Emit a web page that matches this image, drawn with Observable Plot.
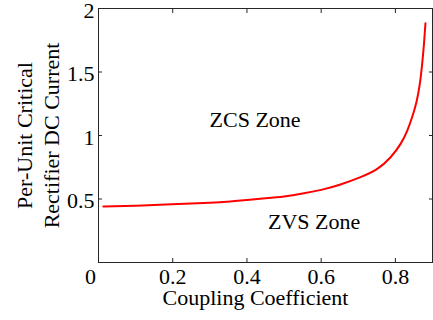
<!DOCTYPE html>
<html>
<head>
<meta charset="utf-8">
<script src="https://cdn.jsdelivr.net/npm/d3@7"></script>
<script src="https://cdn.jsdelivr.net/npm/@observablehq/plot@0.6"></script>
<style>
  html, body { margin: 0; padding: 0; background: #fff; }
  #chart svg { display: block; }
</style>
</head>
<body>
<div id="chart"></div>
<script>
const coupling = [0.013, 0.1, 0.18, 0.3, 0.36, 0.45, 0.5, 0.55, 0.6, 0.65, 0.706, 0.751, 0.787, 0.814, 0.832, 0.845, 0.857, 0.866, 0.872, 0.877, 0.881];
const current  = [0.441, 0.447, 0.456, 0.47, 0.482, 0.505, 0.52, 0.543, 0.572, 0.612, 0.672, 0.737, 0.829, 0.934, 1.039, 1.144, 1.266, 1.41, 1.56, 1.72, 1.884];
const xTicks = [0.2, 0.4, 0.6, 0.8];
const xTickZero = [0];
const xTicksAll = [0, 0.2, 0.4, 0.6, 0.8];
const yTicks = [0.5, 1, 1.5, 2];
const zoneLabels = ["ZCS Zone", "ZVS Zone"];
const zoneX = [0.422, 0.581];
const zoneY = [1.126, 0.323];
const xLabel = "Coupling Coefficient";
const yLabelLines = ["Per-Unit Critical", "Rectifier DC Current"];

const data = coupling.map((k, i) => ({k, y: current[i]}));
const zones = zoneLabels.map((t, i) => ({t, x: zoneX[i], y: zoneY[i]}));

const font = "Liberation Serif, Times New Roman, serif";
const fs = 22;
const axisColor = "#262626";

const chart = Plot.plot({
  width: 433,
  height: 320,
  marginLeft: 98,
  marginRight: 1,
  marginTop: 8,
  marginBottom: 58,
  style: `font-family: ${font}; font-size: ${fs}px; color: #000; background: #fff;`,
  x: {domain: [0, 0.9]},
  y: {domain: [0, 2]},
  marks: [
    Plot.frame({stroke: axisColor, strokeWidth: 1}),
    Plot.axisX(xTicksAll, {anchor: "bottom", tickSize: -4, tickFormat: () => "", stroke: axisColor, label: null}),
    Plot.axisX(xTicks, {anchor: "bottom", tickSize: 0, tickPadding: 6, fill: "#000", tickFormat: d => String(d), label: null, fontSize: fs, fontFamily: font}),
    Plot.axisX(xTickZero, {anchor: "bottom", tickSize: 0, tickPadding: 6, dx: -8, fill: "#000", tickFormat: () => "0", label: null, fontSize: fs, fontFamily: font}),
    Plot.axisX(xTicksAll, {anchor: "top", tickSize: -4, tickFormat: () => "", stroke: axisColor, label: null}),
    Plot.axisY(yTicks, {anchor: "left", tickSize: -4, tickFormat: () => "", stroke: axisColor, label: null}),
    Plot.axisY(yTicks, {anchor: "left", tickSize: 0, tickPadding: 4, dy: 2, fill: "#000", tickFormat: d => String(d), label: null, fontSize: fs, fontFamily: font}),
    Plot.axisY(yTicks, {anchor: "right", tickSize: -4, tickFormat: () => "", stroke: axisColor, label: null}),
    Plot.line(data, {x: "k", y: "y", stroke: "#ff0000", strokeWidth: 2, curve: "natural"}),
    Plot.text(zones, {x: "x", y: "y", text: "t", fontSize: fs, fontFamily: font, fill: "#000"}),
    Plot.text([xLabel], {frameAnchor: "bottom", dx: -10, dy: 42, fontSize: fs, fontFamily: font, fill: "#000"}),
    Plot.text([yLabelLines[0]], {frameAnchor: "left", rotate: -90, textAnchor: "middle", dx: -74, dy: 0, fontSize: fs, fontFamily: font, fill: "#000"}),
    Plot.text([yLabelLines[1]], {frameAnchor: "left", rotate: -90, textAnchor: "middle", dx: -47, dy: 0, fontSize: fs, fontFamily: font, fill: "#000"})
  ]
});
document.getElementById("chart").appendChild(chart);
</script>
</body>
</html>
